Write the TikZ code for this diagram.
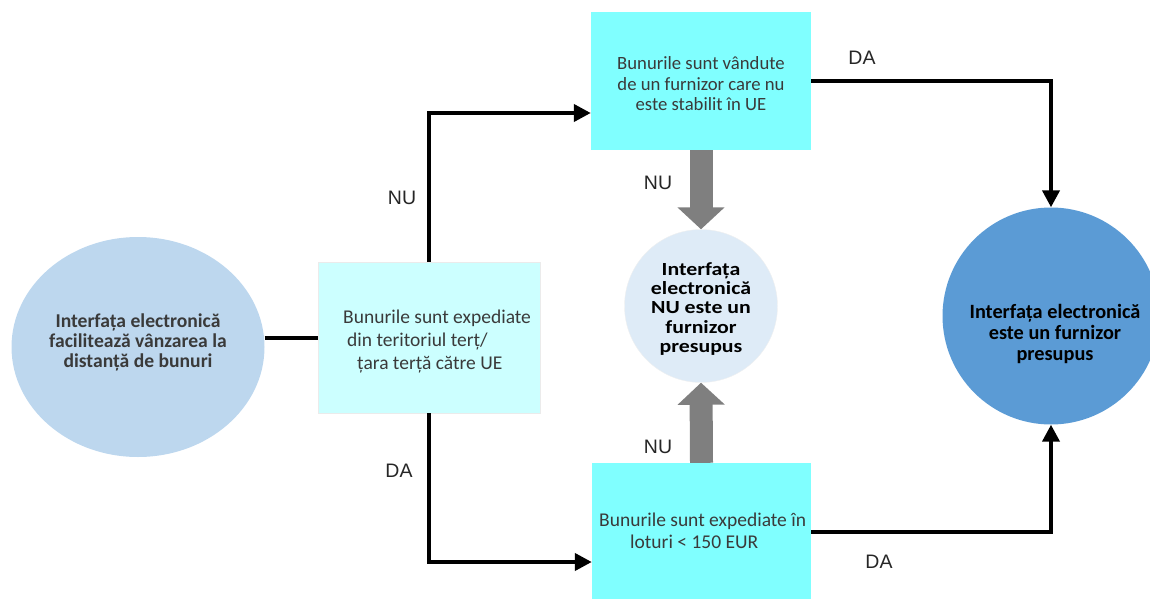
\documentclass[tikz,border=0pt]{standalone}
\usepackage{fontspec}
\setmainfont{Carlito}
\newfontfamily\labelfont{Liberation Sans}
\newfontfamily\widefont[FakeStretch=1.18]{Carlito}
\usetikzlibrary{arrows.meta,shapes.geometric}

\definecolor{paleblue}{HTML}{BDD7EE}
\definecolor{palecyan}{HTML}{CCFFFF}
\definecolor{aqua}{HTML}{80FFFF}
\definecolor{mist}{HTML}{DEEBF7}
\definecolor{midblue}{HTML}{5B9BD5}
\definecolor{blockgray}{HTML}{7F7F7F}
\definecolor{inkgray}{HTML}{3A3A3A}

\tikzset{
  boxtext/.style={font=\fontsize{19.5}{21.5}\selectfont, text=inkgray, inner sep=0pt},
  circtext/.style={font=\fontsize{19.6}{20}\selectfont\bfseries, align=center, inner sep=0pt},
  stepbox/.style={rectangle, inner sep=0pt, draw=none},
  conn/.style={line width=4pt, black},
  arr/.style={conn, -{Triangle[length=17pt,width=17pt]}},
  blockarr/.style={line width=23pt, blockgray, -{Triangle[length=22pt,width=46pt]}},
  lbl/.style={font=\labelfont\fontsize{19.5}{20}\selectfont, text=black!85}
}

\begin{document}
\begin{tikzpicture}[x=1pt,y=-1pt]
\useasboundingbox (0,0) rectangle (1150,599);
\clip (0,0) rectangle (1150,599);

% start: left ellipse
\node[ellipse, fill=paleblue, minimum width=253pt, minimum height=220pt, inner sep=0pt] (lc) at (138,347) {};
\node[circtext, text=inkgray] (lct) at (138,342) {Interfața electronică\\facilitează vânzarea la\\distanță de bunuri};

% decision boxes
\node[stepbox, fill=palecyan, draw=black!8, minimum width=222pt, minimum height=151pt] (b1) at (429,337.5) {};
\node[boxtext, anchor=west] (b1t) at (343,342) {\renewcommand{\arraystretch}{1.07}\begin{tabular}{@{}l@{}}Bunurile sunt expediate\\\hspace*{4pt}din teritoriul terț/\\\hspace*{14pt}țara terță către UE\end{tabular}};

\node[stepbox, fill=aqua, minimum width=220pt, minimum height=138pt] (tb) at (701,81) {};
\node[boxtext, align=center, font=\fontsize{18.7}{20.5}\selectfont] (tbt) at (701,84) {Bunurile sunt vândute\\de un furnizor care nu\\este stabilit în UE};

\node[stepbox, fill=aqua, minimum width=219pt, minimum height=138pt] (bb) at (701.5,532) {};
\node[boxtext, anchor=west] (bbt) at (599,533) {\renewcommand{\arraystretch}{1.05}\begin{tabular}{@{}l@{}}Bunurile sunt expediate în\\\hspace*{31pt}loturi < 150 EUR\end{tabular}};

% outcomes
\node[circle, fill=mist, draw=black!6, minimum size=153pt, inner sep=0pt] (mc) at (701,306) {};
\node[circtext, font=\widefont\fontsize{18.5}{19.3}\selectfont\bfseries] (mct) at (701,309) {Interfața\\electronică\\NU este un\\furnizor\\presupus};

\node[circle, fill=midblue, minimum size=217pt, inner sep=0pt] (rc) at (1051,316) {};
\node[circtext, font=\fontsize{20.3}{21}\selectfont\bfseries] (rct) at (1055,334) {Interfața electronică\\este un furnizor\\presupus};

% connectors
\draw[conn] (lc.east |- b1.west) -- (b1.west);
\draw[arr] (b1.north) |- ([yshift=-32pt]tb.west);
\draw[arr] (b1.south) |- ([yshift=-30pt]bb.west);
\draw[arr] (tb.east) -| (rc.north);
\draw[arr] (bb.east) -| (rc.south);
\draw[blockarr] (tb.south) -- (mc.north);
\draw[blockarr] (bb.north) -- (mc.south);

% branch labels
\node[lbl] (l1) at (402,198) {NU};
\node[lbl] (l2) at (399,471) {DA};
\node[lbl] (l3) at (862,58) {DA};
\node[lbl] (l4) at (879,562) {DA};
\node[lbl] (l5) at (658,183) {NU};
\node[lbl] (l6) at (658,447) {NU};
\end{tikzpicture}
\end{document}
